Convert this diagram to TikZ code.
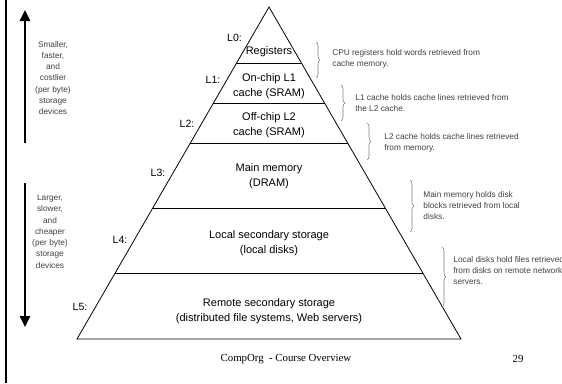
\documentclass[tikz,border=0pt]{standalone}
\usepackage{fontspec}
\setmainfont{Liberation Sans}
\newfontfamily\footfont{Liberation Serif}
\usetikzlibrary{arrows.meta,decorations.pathreplacing,calc}

\begin{document}
\begin{tikzpicture}
[x=1pt,y=-1pt, line width=0.8pt,
level/.style={font=\fontsize{11}{15}\selectfont, align=center, inner sep=0pt},
lvl/.style={font=\fontsize{10.5}{12}\selectfont, inner sep=0pt},
note/.style={font=\fontsize{8.3}{11}\selectfont, align=left, anchor=west, inner sep=0pt, text=black!75},
side/.style={font=\fontsize{8.3}{11.3}\selectfont, align=center, inner sep=0pt, text=black!75},
bigarrow/.style={line width=2.5pt, -{Triangle[width=10pt,length=11pt]}},
curly/.style={gray, line width=0.6pt, decorate, decoration={brace,amplitude=4pt}}]

\useasboundingbox (0,0) rectangle (562,383);

\coordinate (railtop) at (6,0);
\coordinate (railbot) at (6,383);
\draw[line width=2pt] (railtop) -- (railbot);

% pyramid
\coordinate (apex) at (269,7);
\coordinate (bl) at (77,339);
\coordinate (br) at (461,339);
\draw (apex) -- (bl) -- (br) -- cycle;

\coordinate (l0a) at ($(apex)!0.1687!(bl)$);
\coordinate (l0b) at ($(apex)!0.1687!(br)$);
\coordinate (l1a) at ($(apex)!0.2892!(bl)$);
\coordinate (l1b) at ($(apex)!0.2892!(br)$);
\coordinate (l2a) at ($(apex)!0.4096!(bl)$);
\coordinate (l2b) at ($(apex)!0.4096!(br)$);
\coordinate (l3a) at ($(apex)!0.6054!(bl)$);
\coordinate (l3b) at ($(apex)!0.6054!(br)$);
\coordinate (l4a) at ($(apex)!0.8012!(bl)$);
\coordinate (l4b) at ($(apex)!0.8012!(br)$);
\draw (l0a) -- (l0b);
\draw (l1a) -- (l1b);
\draw (l2a) -- (l2b);
\draw (l3a) -- (l3b);
\draw (l4a) -- (l4b);

% levels
\node (reg) at (269,52) [level] {Registers};
\node (sram1) at (269,86) [level] {On-chip L1\\cache (SRAM)};
\node (sram2) at (269,125) [level] {Off-chip L2\\cache (SRAM)};
\node (dram) at (269,176.5) [level] {Main memory\\(DRAM)};
\node (local) at (269,243) [level] {Local secondary storage\\(local disks)};
\node (remote) at (269,311.5) [level] {Remote secondary storage\\(distributed file systems, Web servers)};

\node (L0) at (234.5,38) [lvl] {L0:};
\node (L1) at (213,80) [lvl] {L1:};
\node (L2) at (187,124) [lvl] {L2:};
\node (L3) at (158,173) [lvl] {L3:};
\node (L4) at (120,240) [lvl] {L4:};
\node (L5) at (80,307) [lvl] {L5:};

% braces and notes
\coordinate (b1t) at (316,42);  \coordinate (b1b) at (316,78);
\coordinate (b2t) at (341,85);  \coordinate (b2b) at (341,121);
\coordinate (b3t) at (367,123); \coordinate (b3b) at (367,160);
\coordinate (b4t) at (410,180); \coordinate (b4b) at (410,232);
\coordinate (b5t) at (442,247); \coordinate (b5b) at (442,307);
\draw[curly] (b1t) -- (b1b);
\draw[curly] (b2t) -- (b2b);
\draw[curly] (b3t) -- (b3b);
\draw[curly] (b4t) -- (b4b);
\draw[curly] (b5t) -- (b5b);

\node (n1) at (332,58.5) [note] {CPU registers hold words retrieved from\\cache memory.};
\node (n2) at (355,103.5) [note] {L1 cache holds cache lines retrieved from\\the L2 cache.};
\node (n3) at (384,143) [note] {L2 cache holds cache lines retrieved\\from memory.};
\node (n4) at (423,206) [note] {Main memory holds disk\\blocks retrieved from local\\disks.};
\node (n5) at (453,271) [note] {Local disks hold files retrieved\\from disks on remote network\\servers.};

% side arrows
\coordinate (upfrom) at (25,143);
\coordinate (upto) at (25,10);
\coordinate (downfrom) at (25,183);
\coordinate (downto) at (25,327);
\draw[bigarrow] (upfrom) -- (upto);
\draw[bigarrow] (downfrom) -- (downto);

\node (small) at (53,78) [side] {Smaller,\\faster,\\and\\costlier\\(per byte)\\storage\\devices};
\node (large) at (50,231.5) [side] {Larger,\\slower,\\and\\cheaper\\(per byte)\\storage\\devices};

% footer
\node (foot) at (286,359) [font=\footfont\fontsize{10.8}{12}\selectfont, inner sep=0pt] {CompOrg\ \ - Course Overview};
\node (page) at (518,359) [font=\footfont\fontsize{10.8}{12}\selectfont, inner sep=0pt] {29};

\end{tikzpicture}
\end{document}
